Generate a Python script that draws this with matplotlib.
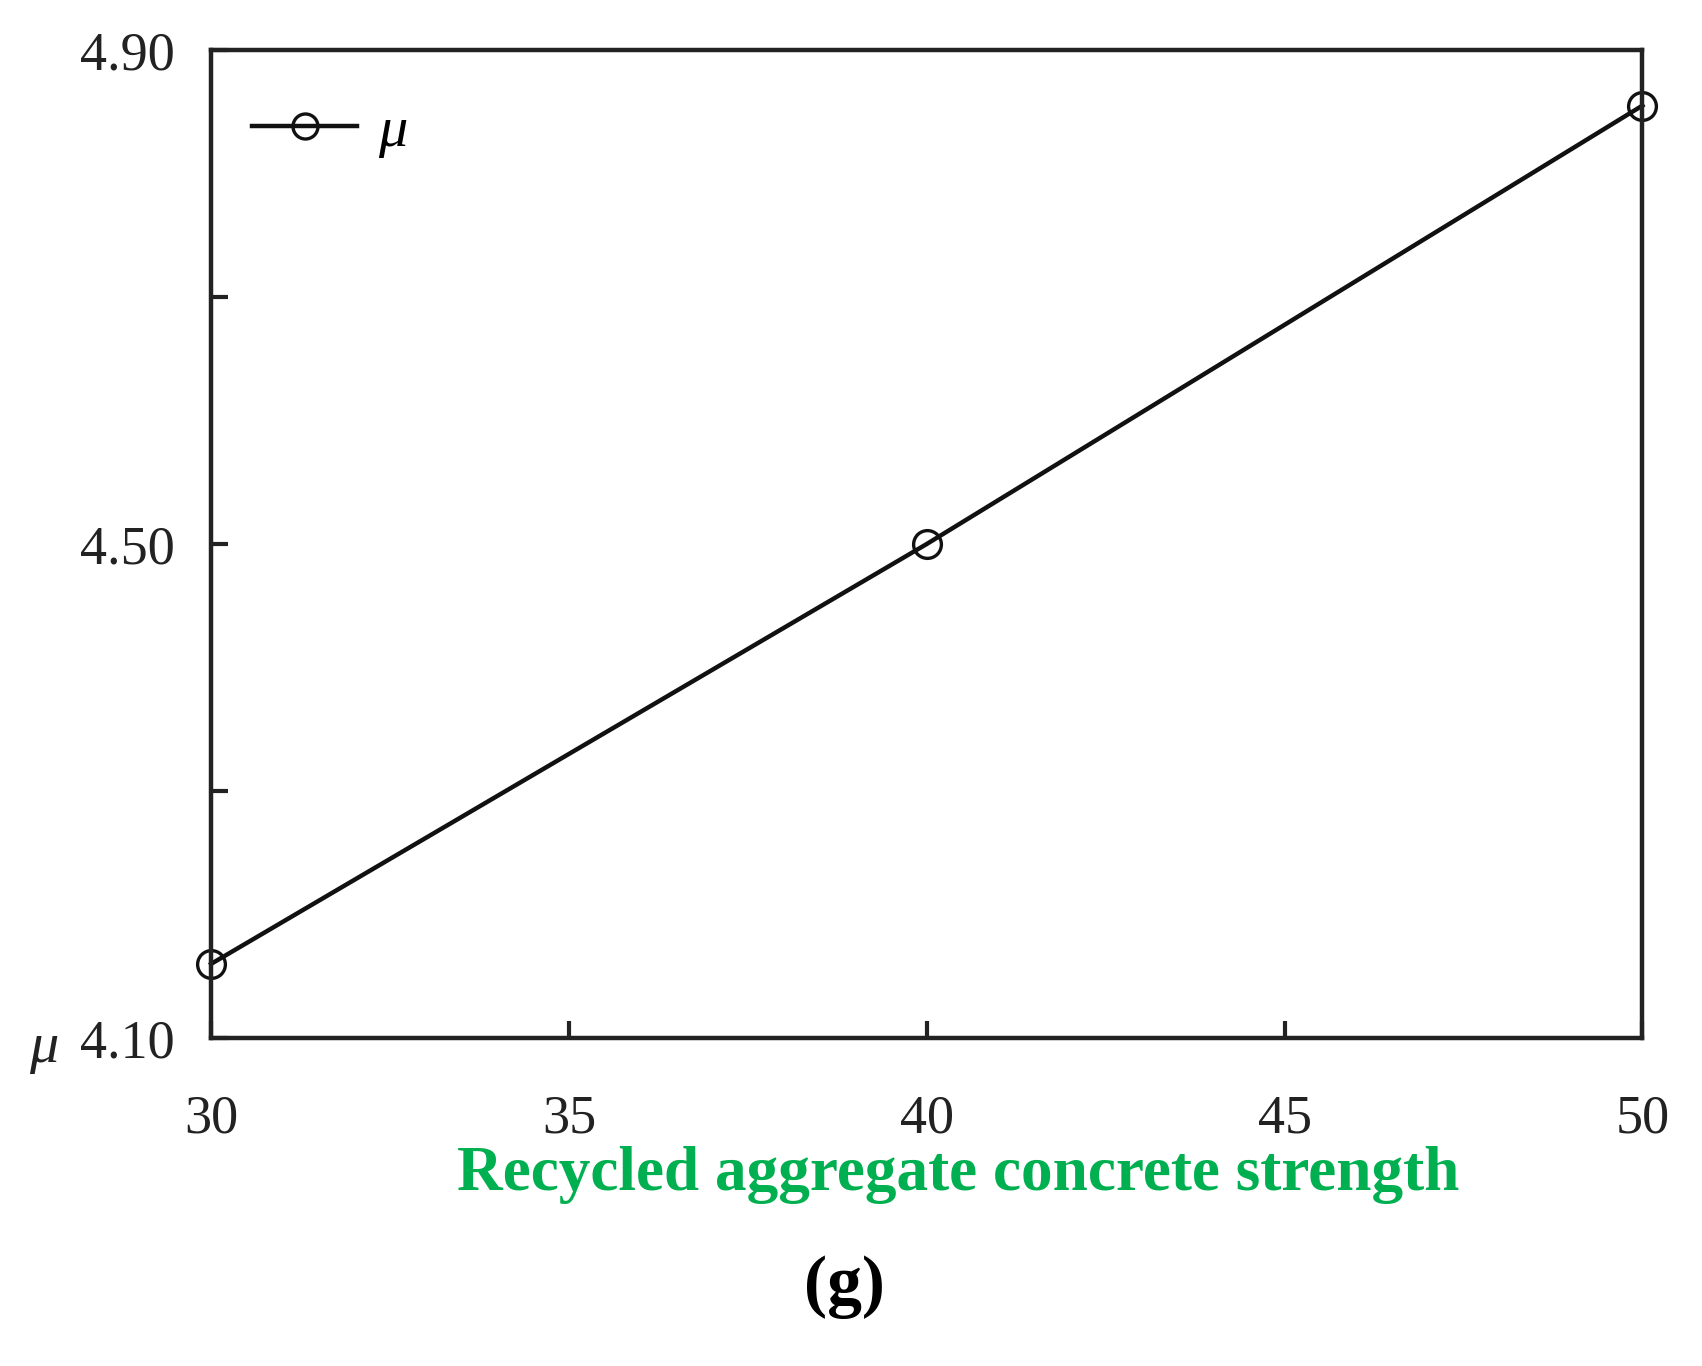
import matplotlib
matplotlib.use("Agg")
import matplotlib.pyplot as plt

strength = [30, 40, 50]
mu_values = [4.16, 4.50, 4.855]
x_ticks = [30, 35, 40, 45, 50]
y_ticks = [4.10, 4.30, 4.50, 4.70, 4.90]
y_tick_labels = ["4.10", "", "4.50", "", "4.90"]

plt.rcParams["font.family"] = ["Liberation Serif", "DejaVu Serif"]
plt.rcParams["mathtext.fontset"] = "custom"
plt.rcParams["mathtext.rm"] = "Liberation Serif"
plt.rcParams["mathtext.it"] = "Liberation Serif:italic"

fig = plt.figure(figsize=(17.02, 13.66), dpi=100)
ax = fig.add_axes([0.124, 0.2401, 0.841, 0.7233])

ax.plot(strength, mu_values, color="#111111", lw=3.2, marker="o", ms=20,
        mfc="none", mec="#111111", mew=2.4, clip_on=False, label=r"$\mu$")

ax.set_xlim(30, 50)
ax.set_ylim(4.10, 4.90)
ax.set_xticks(x_ticks)
ax.set_xticklabels([str(v) for v in x_ticks])
ax.set_yticks(y_ticks)
ax.set_yticklabels(y_tick_labels)

ax.tick_params(axis="both", direction="in", labelsize=39, colors="#222222",
               width=3, length=12)
ax.tick_params(axis="x", pad=40)
ax.tick_params(axis="y", pad=26)
for s in ax.spines.values():
    s.set_linewidth(3.2)
    s.set_color("#222222")

leg = ax.legend(loc="upper left", bbox_to_anchor=(-0.008, 0.997), frameon=False,
                fontsize=42, handlelength=1.8, handletextpad=0.35,
                markerscale=0.9)

# y label placed beside the bottom tick label
ax.text(-0.117, -0.012, r"$\mu$", transform=ax.transAxes, fontsize=42,
        ha="center", va="center", color="#222222")

fig.text(0.563, 0.14, "Recycled aggregate concrete strength", color="#00b050",
         fontsize=45.5, fontweight="bold", ha="center", va="center")
fig.text(0.496, 0.058, "(g)", color="black", fontsize=50, fontweight="bold",
         ha="center", va="center")

fig.savefig("out.png", dpi=100, facecolor="white")
